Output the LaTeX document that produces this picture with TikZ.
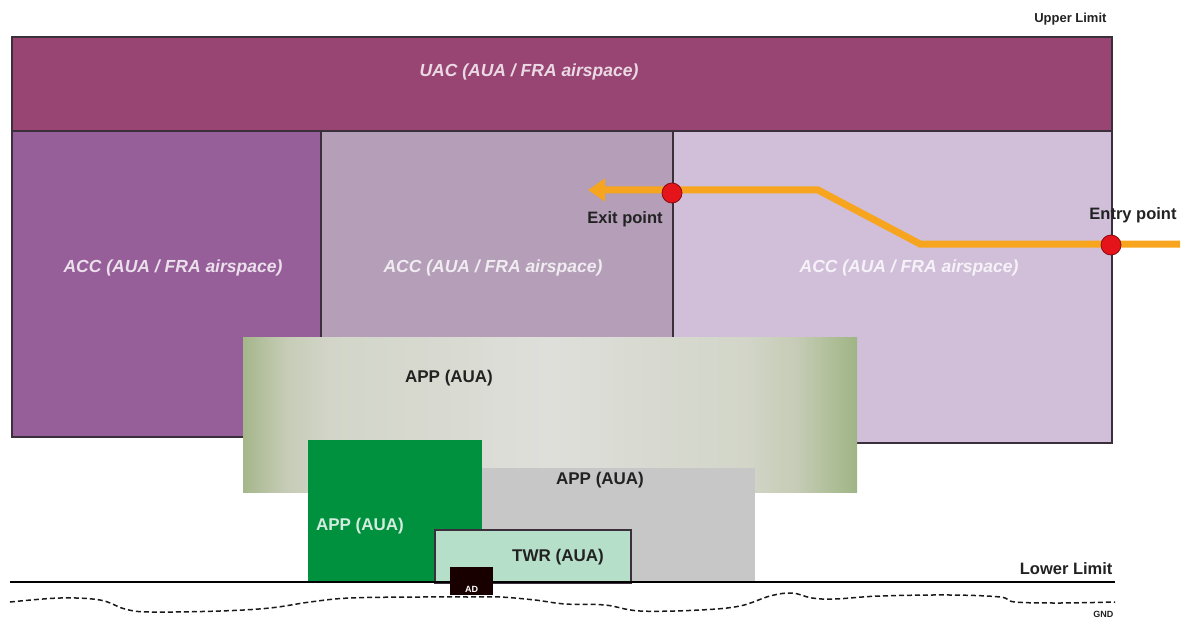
\documentclass[tikz,border=0pt]{standalone}
\usepackage{fontspec}
\setmainfont{Liberation Sans}
\usetikzlibrary{arrows.meta}

\definecolor{uaccol}{HTML}{984574}
\definecolor{accone}{HTML}{975F99}
\definecolor{acctwo}{HTML}{B49EB8}
\definecolor{accthree}{HTML}{D1BFDA}
\definecolor{edgecol}{HTML}{3B2F3B}
\definecolor{appedgeleft}{HTML}{A5B68B}
\definecolor{appedgeright}{HTML}{9FB584}
\definecolor{appnear}{HTML}{C6CCB6}
\definecolor{appinner}{HTML}{D2D5C8}
\definecolor{appmid}{HTML}{DEDFDA}
\definecolor{appgreen}{HTML}{00913F}
\definecolor{appgray}{HTML}{C7C7C7}
\definecolor{twrcol}{HTML}{B5DFC8}
\definecolor{routecol}{HTML}{F7A51E}
\definecolor{pointred}{HTML}{E5141A}
\definecolor{labelink}{HTML}{222222}

% soft horizontal glow of the upper approach volume
\pgfdeclarehorizontalshading{appglow}{100bp}{
  color(0bp)=(appedgeleft); color(25bp)=(appedgeleft);
  color(28.5bp)=(appnear); color(32bp)=(appinner);
  color(50bp)=(appmid);
  color(66bp)=(appinner); color(70bp)=(appnear);
  color(75bp)=(appedgeright); color(100bp)=(appedgeright)}

\tikzset{
  sector/.style={draw=edgecol, line width=1.3pt},
  sectortext/.style={text=white, text opacity=0.8, font=\fontsize{17.5}{20}\selectfont\bfseries\itshape},
  unittext/.style={text=labelink, font=\fontsize{17}{20}\selectfont\bfseries},
  limittext/.style={text=labelink, anchor=east, font=\bfseries},
  waypoint/.style={circle, fill=pointred, draw=pointred!60!black, line width=0.8pt, minimum size=20pt, inner sep=0pt},
  route/.style={draw=routecol, line width=7pt},
  ground/.style={draw=black!90, line width=1.5pt, dash pattern=on 5pt off 3pt},
}

\begin{document}
\begin{tikzpicture}[x=1pt, y=-1pt]
\useasboundingbox (0,0) rectangle (1192,623);

% ACC sectors and the UAC layer above them
\path[sector, fill=accone]   (12,131) rectangle (321,437);
\path[sector, fill=acctwo]   (321,131) rectangle (673,437);
\path[sector, fill=accthree] (673,131) rectangle (1112,443);
\path[sector, fill=uaccol]   (12,37) rectangle (1112,131);

\node[sectortext] (uac)  at (529,72)  {UAC (AUA / FRA airspace)};
\node[sectortext] (acc1) at (173,268) {ACC (AUA / FRA airspace)};
\node[sectortext] (acc2) at (493,268) {ACC (AUA / FRA airspace)};
\node[sectortext] (acc3) at (909,268) {ACC (AUA / FRA airspace)};

% approach, tower and aerodrome volumes
\shade[shading=appglow] (243,337) rectangle (857,492);
\fill[appgray]  (482,468) rectangle (755,583);
\fill[appgreen] (308,440) rectangle (482,583);
\path[draw=edgecol, line width=1.3pt, fill=twrcol] (435,530) rectangle (631,583);

\node[unittext] (app1) at (449,378) {APP (AUA)};
\node[unittext] (app2) at (600,480) {APP (AUA)};
\node[unittext, text=twrcol!60!white] (app3) at (360,526) {APP (AUA)};
\node[unittext] (twr)  at (558,557) {TWR (AUA)};

% lower limit and ground
\draw[black, line width=1.3pt] (10,582) -- (1115,582);
\draw[ground] plot[smooth, tension=0.6] coordinates {
  (10,602) (60,598) (100,600) (125,609) (150,612) (220,611) (270,608)
  (310,602) (350,598) (420,597) (470,597) (500,597) (535,600) (565,604)
  (605,605) (640,611) (700,610) (740,606) (770,596) (792,593) (812,598)
  (835,599) (880,596) (950,595) (1000,597) (1015,602) (1060,603) (1115,602)};

\node[fill=black!90!red, minimum width=43pt, minimum height=28pt, inner sep=0pt] (ad) at (471.5,581) {};
\node[text=white, font=\fontsize{9}{10}\selectfont\bfseries] (adlabel) at (471.5,589) {AD};

\node[limittext, font=\fontsize{13}{15}\selectfont\bfseries] (upper) at (1110,19) {Upper Limit};
\node[limittext, font=\fontsize{16.5}{18}\selectfont\bfseries] (lower) at (1116,569) {Lower Limit};
\node[limittext, font=\fontsize{9}{10}\selectfont\bfseries] (gnd) at (1117,614) {GND};

% route through the sectors, entry and exit points
\coordinate (routestart) at (1180,244);
\coordinate (bendlow) at (920,244);
\coordinate (bendhigh) at (818,190);
\coordinate (routeend) at (588,190);
\draw[route, -{Triangle[length=17pt, width=22pt]}]
  (routestart) -- (bendlow) -- (bendhigh) -- (routeend);

\node[waypoint] (exit)  at (672,193) {};
\node[waypoint] (entry) at (1111,245) {};
\node[text=labelink, font=\fontsize{16.5}{18}\selectfont\bfseries] (exitlabel) at (625,219) {Exit point};
\node[text=labelink, font=\fontsize{16.5}{18}\selectfont\bfseries] (entrylabel) at (1133,215) {Entry point};
\end{tikzpicture}
\end{document}
